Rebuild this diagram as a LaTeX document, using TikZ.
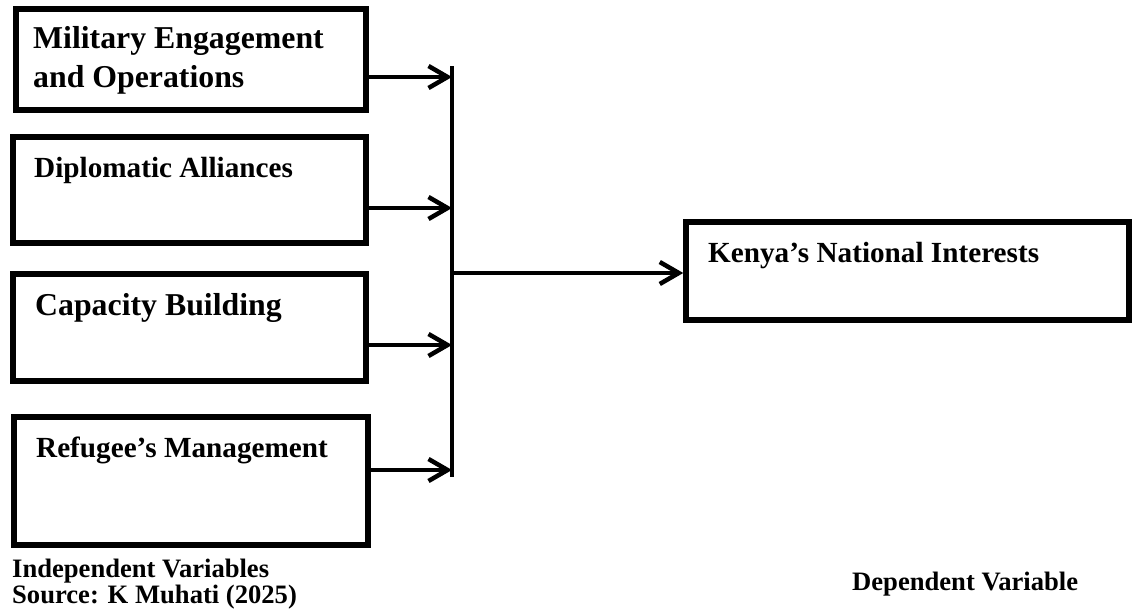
\documentclass[tikz,border=0pt]{standalone}
\usepackage{fontspec}
\setmainfont{Liberation Serif}
\usetikzlibrary{arrows.meta}
\tikzset{
  box/.style={draw, line width=5.5pt, rectangle, inner sep=0pt},
  arr/.style={line width=3.5pt, -{Straight Barb[length=19pt,width=22pt,line width=4.5pt]}},
  conn/.style={line width=3.5pt},
  bigtxt/.style={anchor=base west, inner sep=0pt, font=\bfseries\fontsize{31.8}{39}\selectfont, align=left},
  midtxt/.style={anchor=base west, inner sep=0pt, font=\bfseries\fontsize{29.2}{35}\selectfont},
  smalltxt/.style={anchor=base west, inner sep=0pt, font=\bfseries\fontsize{26.6}{26}\selectfont}
}
\begin{document}
\begin{tikzpicture}[x=1pt,y=-1pt]
\useasboundingbox (0,0) rectangle (1133,613);
% boxes
\node[box, minimum width=350pt, minimum height=101pt] (m) at (191,59.5) {};
\node[box, minimum width=353pt, minimum height=106pt] (d) at (189.5,190) {};
\node[box, minimum width=353pt, minimum height=107pt] (c) at (189.5,327.5) {};
\node[box, minimum width=354pt, minimum height=128pt] (r) at (191,481) {};
\node[box, minimum width=443pt, minimum height=98pt] (k) at (907.5,271) {};
% texts
\node[bigtxt] (mt1) at (33,48) {Military Engagement};
\node[bigtxt] (mt2) at (33,87) {and Operations};
\node[midtxt] (dt) at (34,177) {Diplomatic Alliances};
\node[bigtxt] (ct) at (35,315) {Capacity Building};
\node[midtxt] (rt) at (36,457) {Refugee’s Management};
\node[midtxt] (kt) at (708,262) {Kenya’s National Interests};
\node[smalltxt] (iv) at (12,577) {Independent Variables};
\node[smalltxt] (src) at (12,603) {Source: K Muhati (2025)};
\node[smalltxt] (dv) at (852,590) {Dependent Variable};
% bar
\coordinate (bt) at (452,66);
\coordinate (bb) at (452,477);
\coordinate (j1) at (452,77);
\coordinate (j2) at (452,208);
\coordinate (j3) at (452,345);
\coordinate (j4) at (452,470);
\coordinate (jk) at (452,273);
\draw[conn] (bt) -- (bb);
\draw[arr] (j1 -| m.east) -- (j1);
\draw[arr] (j2 -| d.east) -- (j2);
\draw[arr] (j3 -| c.east) -- (j3);
\draw[arr] (j4 -| r.east) -- (j4);
\draw[arr] (jk) -- (jk -| k.west);
\end{tikzpicture}
\end{document}
